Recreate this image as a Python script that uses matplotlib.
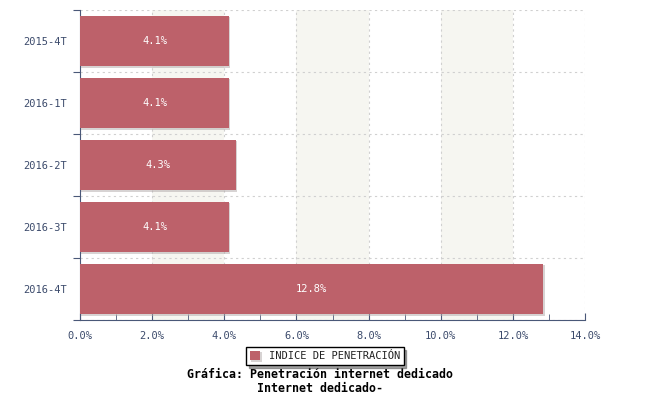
import matplotlib
matplotlib.use("Agg")
import matplotlib.pyplot as plt
import matplotlib.patheffects as pe
from matplotlib.ticker import MultipleLocator, FuncFormatter

periodos = ["2015-4T", "2016-1T", "2016-2T", "2016-3T", "2016-4T"]
indice = [4.13, 4.13, 4.32, 4.13, 12.84]
etiquetas = ["4.1%", "4.1%", "4.3%", "4.1%", "12.8%"]
serie = "INDICE DE PENETRACIÓN"
titulo = ["Gráfica: Penetración internet dedicado", "Internet dedicado-"]

barra = "#bd616a"
texto = "#3b4a6b"
eje = "#4a5878"
fuente = "DejaVu Sans Mono"

fig = plt.figure(figsize=(6.5, 4), dpi=100)
ax = fig.add_axes([80/650, 80/400, 505/650, 310/400])

# bandas alternas
for x0 in [2, 6, 10]:
    ax.axvspan(x0, x0 + 2, color="#f6f6f1", zorder=0, lw=0)

y = list(range(len(periodos)))
bars = ax.barh(y, indice, height=0.82, color=barra, zorder=3,
               path_effects=[pe.SimplePatchShadow(offset=(1, -1), shadow_rgbFace="#b0a8a8", alpha=0.5), pe.Normal()])
for yi, v, t in zip(y, indice, etiquetas):
    ax.text(v / 2, yi, t, color="white", ha="center", va="center",
            fontsize=7.5, family=fuente, zorder=4)

ax.set_xlim(0, 14)
ax.set_ylim(len(periodos) - 0.5, -0.5)
ax.xaxis.set_major_locator(MultipleLocator(2))
ax.xaxis.set_minor_locator(MultipleLocator(1))
ax.xaxis.set_major_formatter(FuncFormatter(lambda v, p: f"{v:.1f}%"))
ax.set_yticks([i - 0.5 for i in range(len(periodos) + 1)], minor=False)
ax.set_yticklabels([])
ax.set_yticks(y, minor=True)
ax.set_yticklabels(periodos, minor=True)

ax.tick_params(axis="x", which="both", direction="in", colors=eje, labelcolor=texto,
               labelsize=7.5, pad=8)
ax.tick_params(axis="x", which="major", length=5)
ax.tick_params(axis="x", which="minor", length=4)
ax.tick_params(axis="y", which="major", direction="out", length=5, colors=eje)
ax.tick_params(axis="y", which="minor", length=0, labelsize=7.5, labelcolor=texto, pad=9)
for lab in ax.get_xticklabels() + ax.get_yticklabels(minor=True):
    lab.set_family(fuente)

ax.grid(True, which="major", axis="both", color="#d0d0d0", linestyle=(0, (2, 3)), lw=0.8, zorder=1)
for s in ["top", "right"]:
    ax.spines[s].set_visible(False)
for s in ["left", "bottom"]:
    ax.spines[s].set_color(eje)

leg = fig.legend([bars], [serie], loc="center", bbox_to_anchor=(325/650, 1 - 356/400),
                 prop={"family": fuente, "size": 7.5}, frameon=True, fancybox=False,
                 shadow=True, handlelength=1, handleheight=1, borderpad=0.35,
                 edgecolor="black")
for t in leg.get_texts():
    t.set_color("#222222")

for linea, yp in zip(titulo, [374, 388]):
    fig.text(320/650, 1 - yp/400, linea, ha="center", va="center", family=fuente,
             fontsize=8.4, fontweight="bold")

fig.savefig("out.png", dpi=100)
